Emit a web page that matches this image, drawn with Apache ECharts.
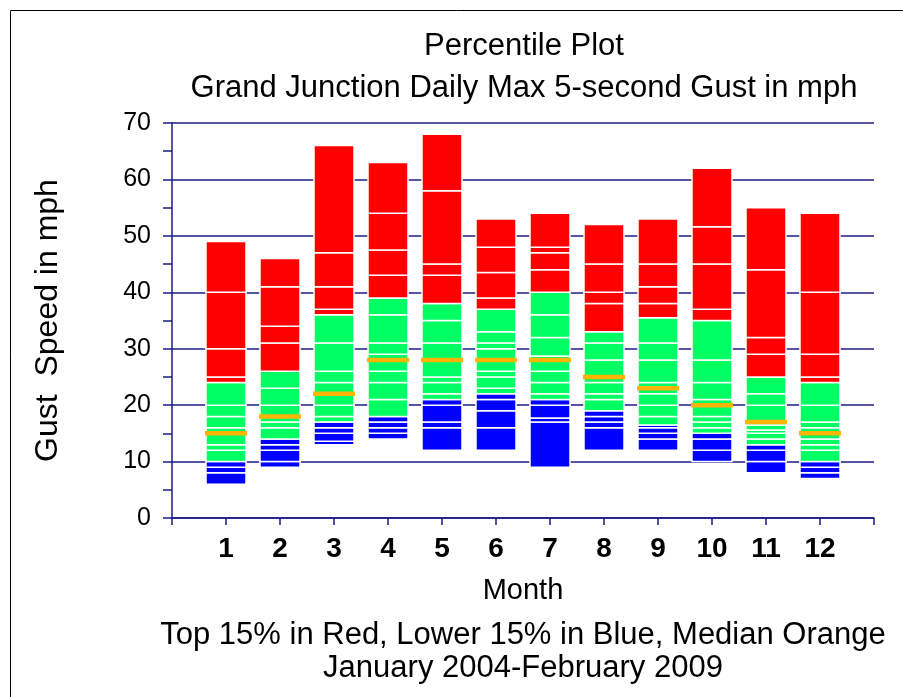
<!DOCTYPE html>
<html>
<head>
<meta charset="utf-8">
<script src="https://cdn.jsdelivr.net/npm/echarts@6.0.0/dist/echarts.min.js"></script>
<style>html,body{margin:0;padding:0;background:#fff}#c{width:903px;height:697px}</style>
</head>
<body>
<div id="c"></div>
<script>
// Month positions on the x axis
const months = [1, 2, 3, 4, 5, 6, 7, 8, 9, 10, 11, 12];
const monthTicks = ['1', '2', '3', '4', '5', '6', '7', '8', '9', '10', '11', '12'];

// Percentile band edges (mph), bottom to top, per month
// Lower 15% (blue)
const lowerBands = [
  [6, 8, 9, 10],
  [9, 10, 12, 13, 14],
  [13, 13.6, 15, 16, 17],
  [14, 15, 16, 17, 18],
  [12, 16, 17, 20, 21],
  [12, 16, 19, 21, 22],
  [9, 17, 17.7, 20, 21],
  [12, 16, 17, 18, 19],
  [12, 14, 15, 16, 16.5],
  [10, 12, 14, 15],
  [8, 10, 12, 13],
  [7, 8, 9, 10]
];
// Middle band (green)
const middleBands = [
  [10, 12, 13, 16, 18, 20, 24],
  [14, 16, 17, 20, 23, 26],
  [17, 18, 20, 24, 26, 31, 36],
  [18, 21, 24, 26, 29, 31, 36, 39],
  [21, 22, 24, 25, 31, 35, 38],
  [22, 23, 25, 26, 30, 31, 33, 37],
  [21, 22, 24, 26, 28.7, 32, 36, 40],
  [19, 21, 22, 24, 28, 31, 33],
  [16.5, 18, 20, 22, 24, 28, 31, 35.5],
  [15, 16, 17, 18, 21, 24, 28, 35],
  [13, 14, 15, 15.6, 16.5, 20, 22, 25],
  [10, 12, 13, 14, 15, 16, 17, 20, 24]
];
// Top 15% (red)
const upperBands = [
  [24, 25, 30, 40, 49],
  [26, 31, 34, 41, 46],
  [36, 37, 41, 47, 66],
  [39, 43, 47.5, 54, 63],
  [38, 43, 45, 58, 68],
  [37, 39, 43.5, 48, 53],
  [40, 44, 47, 48, 54],
  [33, 38, 40, 45, 52],
  [35.5, 38, 41, 45, 53],
  [35, 37, 45, 51.6, 62],
  [25, 29, 32, 44, 55],
  [24, 25, 29, 40, 54]
];
// Median (orange)
const medians = [15, 18, 22, 28, 28, 28, 28, 25, 23, 20, 17, 15];

const palette = ['#0000ff', '#00ff62', '#ff0000'];
const navy = '#1c1c86';
const FONT = 'Liberation Sans, Arial, Helvetica, sans-serif';

// Build segment items [month, low, high, band]
const segments = [];
[lowerBands, middleBands, upperBands].forEach(function (bands, k) {
  bands.forEach(function (edges, i) {
    for (let j = 0; j < edges.length - 1; j++) {
      segments.push([months[i], edges[j], edges[j + 1], k]);
    }
  });
});
const medianPoints = months.map(function (m, i) { return [m, medians[i]]; });

const chart = echarts.init(document.getElementById('c'), null, { renderer: 'canvas' });
chart.setOption({
  animation: false,
  backgroundColor: '#ffffff',
  grid: { left: 172, right: 29, top: 123, bottom: 179, containLabel: false },
  xAxis: {
    type: 'value', min: 0, max: 13, interval: 1,
    name: 'Month', nameLocation: 'middle', nameGap: 58,
    nameTextStyle: { fontFamily: FONT, fontSize: 29, color: '#000' },
    axisLine: { show: true, lineStyle: { color: navy, width: 1.5 } },
    axisTick: { show: true, inside: false, length: 7, lineStyle: { color: navy, width: 1.5 } },
    splitLine: { show: false },
    axisLabel: {
      margin: 17, fontFamily: FONT, fontSize: 28, fontWeight: 'bold', color: '#000',
      formatter: function (v) { return (v >= 1 && v <= 12) ? monthTicks[v - 1] : ''; }
    }
  },
  yAxis: {
    type: 'value', min: 0, max: 70, interval: 10,
    name: 'Gust  Speed in mph', nameLocation: 'middle', nameGap: 108, nameRotate: 90,
    nameTextStyle: { fontFamily: FONT, fontSize: 32, color: '#000' },
    axisLine: { show: true, lineStyle: { color: navy, width: 1.5 } },
    axisTick: { show: true, inside: false, length: 9, lineStyle: { color: navy, width: 1.5 } },
    minorTick: { show: true, splitNumber: 2, length: 9, lineStyle: { color: navy, width: 1.5 } },
    splitLine: { show: true, lineStyle: { color: navy, width: 1.5 } },
    axisLabel: { margin: 21, fontFamily: FONT, fontSize: 25, color: '#000' }
  },
  graphic: [
    { type: 'line', shape: { x1: 10.5, y1: 10.5, x2: 903, y2: 10.5 }, style: { stroke: '#000', lineWidth: 1 }, silent: true },
    { type: 'line', shape: { x1: 10.5, y1: 10.5, x2: 10.5, y2: 697 }, style: { stroke: '#000', lineWidth: 1 }, silent: true },
    { type: 'text', x: 524, y: 46, style: { text: 'Percentile Plot', font: '31px ' + FONT, fill: '#000', textAlign: 'center', textVerticalAlign: 'middle' } },
    { type: 'text', x: 524, y: 88, style: { text: 'Grand Junction Daily Max 5-second Gust in mph', font: '31px ' + FONT, fill: '#000', textAlign: 'center', textVerticalAlign: 'middle' } },
    { type: 'text', x: 523, y: 635, style: { text: 'Top 15% in Red, Lower 15% in Blue, Median Orange', font: '31px ' + FONT, fill: '#000', textAlign: 'center', textVerticalAlign: 'middle' } },
    { type: 'text', x: 523, y: 668, style: { text: 'January 2004-February 2009', font: '31px ' + FONT, fill: '#000', textAlign: 'center', textVerticalAlign: 'middle' } }
  ],
  series: [
    {
      type: 'custom',
      coordinateSystem: 'cartesian2d',
      data: segments,
      encode: { x: 0, y: [1, 2] },
      z: 3,
      renderItem: function (params, api) {
        const m = api.value(0), lo = api.value(1), hi = api.value(2), k = api.value(3);
        const pTop = api.coord([m, hi]);
        const pBot = api.coord([m, lo]);
        return {
          type: 'rect',
          shape: { x: pTop[0] - 20, y: pTop[1], width: 40, height: pBot[1] - pTop[1] },
          style: { fill: palette[k], stroke: '#ffffff', lineWidth: 1.5 }
        };
      }
    },
    {
      type: 'scatter',
      data: medianPoints,
      symbol: 'rect',
      symbolSize: [42, 4.5],
      itemStyle: { color: '#ffb400', opacity: 1 },
      z: 4
    }
  ]
});
</script>
</body>
</html>
